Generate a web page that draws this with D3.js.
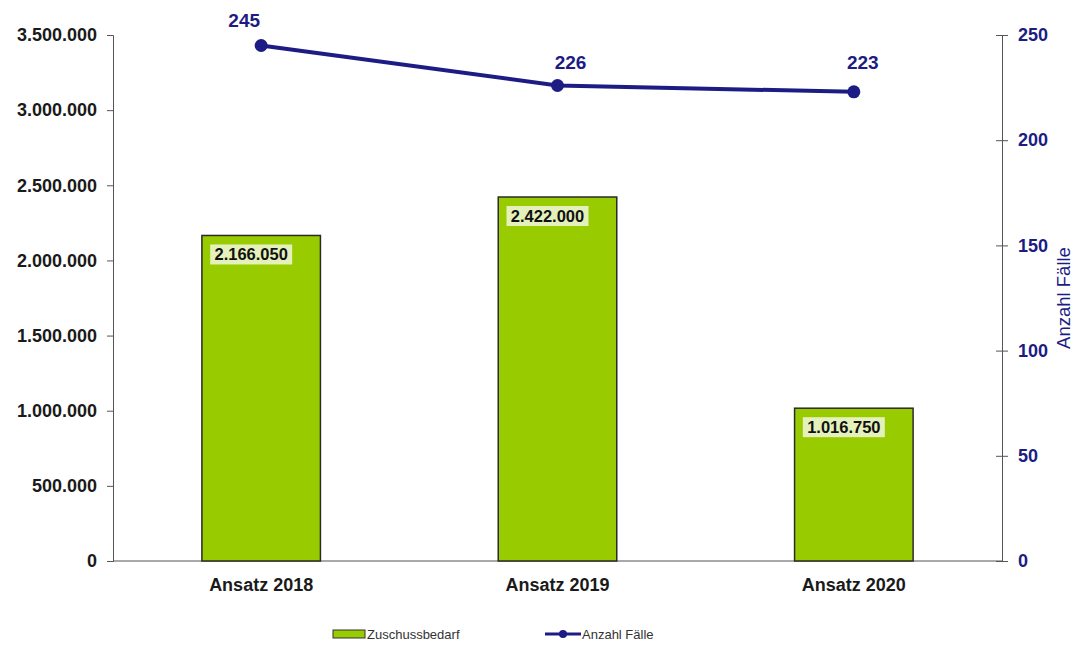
<!DOCTYPE html>
<html>
<head>
<meta charset="utf-8">
<script src="https://cdn.jsdelivr.net/npm/d3@7"></script>
<style>
  body { margin: 0; background: #fff; }
  text { font-family: Arial, "Liberation Sans", sans-serif; }
</style>
</head>
<body>
<svg id="chart" width="1075" height="645"></svg>
<script>
const categories = ['Ansatz 2018', 'Ansatz 2019', 'Ansatz 2020']
const zuschuss = [2166050, 2422000, 1016750]
const faelle = [245, 226, 223]
const leftTicks = [0, 500000, 1000000, 1500000, 2000000, 2500000, 3000000, 3500000]
const rightTicks = [0, 50, 100, 150, 200, 250]

const green = '#99cc00'
const navy = '#1c1c84'

// small nudges for the line labels, as placed in the original
const labelDx = [-17, 13, 9]
const labelDy = [-19, -16, -23]

const svg = d3.select('#chart')
const plotL = 113, plotR = 1002, plotT = 35, plotB = 561

const x = d3.scaleBand().domain(categories).range([plotL, plotR]).paddingInner(0.6).paddingOuter(0.3)
const yL = d3.scaleLinear().domain([0, 3500000]).range([plotB, plotT])
const yR = d3.scaleLinear().domain([0, 250]).range([plotB, plotT])

const fmt = (v) => d3.format(',')(v).replace(/,/g, '.')

// left axis
const gL = svg.append('g').attr('transform', `translate(${plotL},0)`)
  .call(d3.axisLeft(yL).tickValues(leftTicks).tickFormat(fmt).tickSize(6).tickPadding(10))
gL.selectAll('path, line').attr('stroke', '#555')
gL.selectAll('text').attr('font-size', 18).attr('font-weight', 'bold').attr('fill', '#1a1a1a')

// right axis
const gR = svg.append('g').attr('transform', `translate(${plotR},0)`)
  .call(d3.axisRight(yR).tickValues(rightTicks).tickSize(6).tickPadding(10))
gR.selectAll('path, line').attr('stroke', '#555')
gR.selectAll('.tick line').attr('x1', -6)
gR.selectAll('text').attr('font-size', 18).attr('font-weight', 'bold').attr('fill', navy)

svg.append('text')
  .attr('transform', `translate(1070,${yR(125)}) rotate(-90)`)
  .attr('text-anchor', 'middle')
  .attr('font-size', 18.5).attr('fill', navy)
  .text('Anzahl Fälle')

// x axis baseline
svg.append('line').attr('x1', plotL).attr('x2', plotR).attr('y1', plotB).attr('y2', plotB)
  .attr('stroke', '#555')

svg.append('g').selectAll('text').data(categories).join('text')
  .attr('x', (d) => x(d) + x.bandwidth() / 2)
  .attr('y', plotB + 30)
  .attr('text-anchor', 'middle')
  .attr('font-size', 18).attr('font-weight', 'bold').attr('fill', '#1a1a1a')
  .text((d) => d)

// bars
svg.append('g').selectAll('rect').data(zuschuss).join('rect')
  .attr('x', (d, i) => x(categories[i]))
  .attr('y', (d) => yL(d))
  .attr('width', x.bandwidth())
  .attr('height', (d) => plotB - yL(d))
  .attr('fill', green)
  .attr('stroke', '#2a2a2a').attr('stroke-width', 1.5)

// bar labels with light background
const lbl = svg.append('g').selectAll('g').data(zuschuss).join('g')
  .attr('transform', (d, i) => `translate(${x(categories[i]) + x.bandwidth() / 2 - 10},${yL(d) + 19})`)
lbl.append('rect')
  .attr('x', -41).attr('y', -10).attr('width', 82).attr('height', 20)
  .attr('fill', '#f1f7dc').attr('opacity', 0.85)
lbl.append('text')
  .attr('y', 6)
  .attr('text-anchor', 'middle')
  .attr('font-size', 16.5).attr('font-weight', 'bold').attr('fill', '#111')
  .text((d) => fmt(d))

// line
const cx = (i) => x(categories[i]) + x.bandwidth() / 2
svg.append('path').datum(faelle)
  .attr('d', d3.line().x((d, i) => cx(i)).y((d) => yR(d)))
  .attr('fill', 'none').attr('stroke', navy).attr('stroke-width', 4)
svg.append('g').selectAll('circle').data(faelle).join('circle')
  .attr('cx', (d, i) => cx(i)).attr('cy', (d) => yR(d)).attr('r', 6.5)
  .attr('fill', navy)
svg.append('g').selectAll('text').data(faelle).join('text')
  .attr('x', (d, i) => cx(i) + labelDx[i]).attr('y', (d, i) => yR(d) + labelDy[i])
  .attr('text-anchor', 'middle')
  .attr('font-size', 19).attr('font-weight', 'bold').attr('fill', navy)
  .text((d) => d)

// legend
const lg = svg.append('g').attr('transform', 'translate(0,635)')
lg.append('rect').attr('x', 333).attr('y', -5).attr('width', 32).attr('height', 8)
  .attr('fill', green).attr('stroke', '#333')
lg.append('text').attr('x', 367).attr('y', 4).attr('font-size', 13).attr('fill', '#333').text('Zuschussbedarf')
lg.append('line').attr('x1', 545).attr('x2', 581).attr('y1', -1).attr('y2', -1)
  .attr('stroke', navy).attr('stroke-width', 3)
lg.append('circle').attr('cx', 563).attr('cy', -1).attr('r', 4).attr('fill', navy)
lg.append('text').attr('x', 582).attr('y', 4).attr('font-size', 13).attr('fill', '#333').text('Anzahl Fälle')
</script>
</body>
</html>
